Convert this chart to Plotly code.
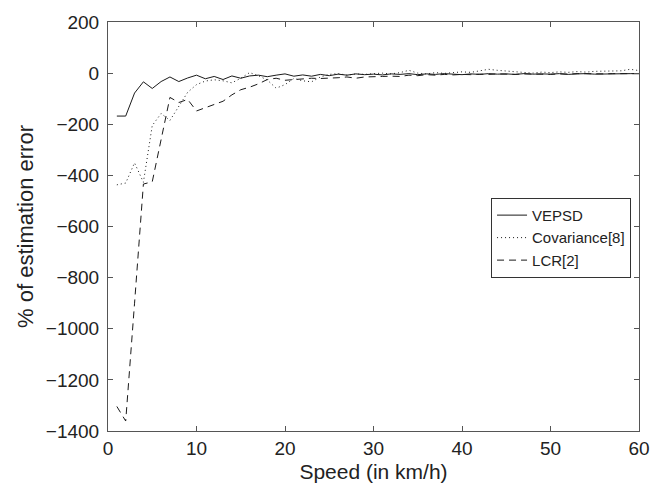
import plotly.graph_objects as go

speed = list(range(1, 61))

vepsd = [-168, -168, -78, -34, -60, -33, -15, -33, -19, -8,
         -22, -13, -25, -11, -20, -11, -8, -14, -8, -3,
         -12, -7, -12, -5, -10, -4, -8, -3, -6, -4,
         -7, -3, -5, -2, -6, -3, -5, -2, -4, -6,
         -3, -5, -2, -4, -3, -5, -2, -4, -3, -4,
         -2, -5, -3, -2, -4, -3, -2, -3, -2, -2]

covariance = [-437, -430, -351, -427, -205, -158, -185, -130, -75, -45,
              -31, -26, -30, -38, -20, 2, -10, -27, -59, -45,
              -21, -30, -34, -15, -5, -2, -8, -3, -5, -2,
              0, -3, 2, 11, 0, -3, 2, -1, 2, 5,
              3, 8, 15, 11, 8, 5, 3, 0, 4, 2,
              5, 3, 6, 4, 7, 8, 10, 9, 15, 10]

lcr = [-1304, -1361, -900, -434, -425, -260, -95, -115, -103, -148,
       -135, -123, -110, -85, -65, -55, -42, -25, -20, -28,
       -26, -22, -20, -21, -20, -18, -15, -20, -15, -13,
       -13, -12, -13, -8, -10, -6, -8, -5, -7, -5,
       -6, -4, -5, -3, -4, -5, -3, -4, -3, -5,
       -3, -4, -2, -3, -4, -3, -2, -3, -2, -2]

series = [("VEPSD", vepsd, "solid"),
          ("Covariance[8]", covariance, "1px,3px"),
          ("LCR[2]", lcr, "7px,5px")]

fig = go.Figure()
for name, vals, dash in series:
    fig.add_trace(go.Scatter(x=speed, y=vals, mode="lines", name=name,
                             line=dict(color="#1a1a1a", width=1, dash=dash)))

font_family = "Liberation Sans, Arial, Helvetica, sans-serif"
axis_common = dict(showline=True, linecolor="#555555", linewidth=1, mirror="ticks",
                   ticks="inside", ticklen=5, tickcolor="#555555", showgrid=False,
                   zeroline=False, tickfont=dict(size=19, color="#222222"))

fig.update_xaxes(range=[0, 60], dtick=10,
                 title=dict(text="Speed (in km/h)", font=dict(size=21, color="#222222"), standoff=6),
                 **axis_common)
fig.update_yaxes(range=[-1400, 200], dtick=200, ticklabelstandoff=4,
                 title=dict(text="% of estimation error", font=dict(size=22, color="#222222"), standoff=6),
                 **axis_common)

fig.update_layout(
    width=668, height=497,
    margin=dict(l=108, r=29, t=12, b=66),
    paper_bgcolor="white", plot_bgcolor="white",
    font=dict(family=font_family, color="#222222"),
    legend=dict(x=0.985, y=0.57, xanchor="right", yanchor="top",
                bgcolor="white", bordercolor="#333333", borderwidth=1,
                font=dict(size=15, color="#222222"), tracegroupgap=0,
                itemwidth=30),
    showlegend=True,
)

fig.write_html("out.html", config={"displayModeBar": False},
               post_script="document.body.style.margin='0';")
